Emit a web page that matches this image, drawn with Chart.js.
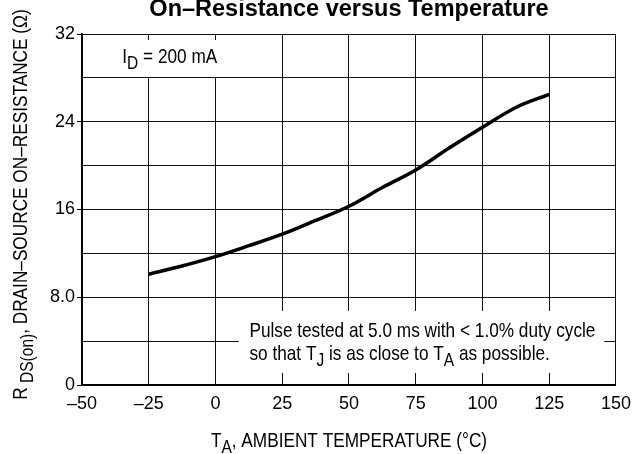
<!DOCTYPE html>
<html lang="en">
<head>
<meta charset="UTF-8" />
<title>On-Resistance versus Temperature</title>
<script src="https://cdn.jsdelivr.net/npm/chart.js"></script>
<style>
  html, body { margin: 0; padding: 0; background: #fff; }
  #wrap { width: 639px; height: 454px; }
</style>
</head>
<body>
<div id="wrap"><canvas id="chart" width="639" height="454"></canvas></div>
<script>
const temps = [-25, -12.5, 0, 12.5, 25, 37.5, 50, 62.5, 75, 87.5, 100, 112.5, 125];
const rdson = [10.1, 10.85, 11.7, 12.7, 13.75, 15.0, 16.3, 18.0, 19.6, 21.6, 23.5, 25.3, 26.5];
const xTicks = [-50, -25, 0, 25, 50, 75, 100, 125, 150];
const yTickLabels = { 0: '0', 8: '8.0', 16: '16', 24: '24', 32: '32' };

function hasFont(name) {
  const c = document.createElement('canvas').getContext('2d');
  const s = 'abcdefghijklmnopqrstuvwxyz0123456789';
  c.font = '40px monospace';
  const a = c.measureText(s).width;
  c.font = '40px "' + name + '", monospace';
  return c.measureText(s).width !== a;
}
// the original uses a narrow Helvetica; fake it by squeezing if no narrow face
const narrow = hasFont('Liberation Sans Narrow');
const FAMILY = narrow ? '"Liberation Sans Narrow", "Liberation Sans", sans-serif' : '"Liberation Sans", sans-serif';
const SIZE = 21;
const SQUEEZE = narrow ? 1 : 0.82;

// text with subscript parts: [[text, isSub], ...]
function runsWidth(ctx, runs) {
  let w = 0;
  runs.forEach(([t, sub]) => {
    ctx.font = (sub ? SIZE * 0.9 : SIZE) + 'px ' + FAMILY;
    w += ctx.measureText(t).width * SQUEEZE;
  });
  return w;
}
function drawRuns(ctx, runs, x, y) {
  let cx = x;
  runs.forEach(([t, sub]) => {
    ctx.font = (sub ? SIZE * 0.9 : SIZE) + 'px ' + FAMILY;
    ctx.save();
    ctx.translate(cx, y + (sub ? SIZE * 0.28 : 0));
    ctx.scale(SQUEEZE, 1);
    ctx.fillText(t, 0, 0);
    ctx.restore();
    cx += ctx.measureText(t).width * SQUEEZE;
  });
}

const notesPlugin = {
  id: 'notes',
  beforeDatasetsDraw(chart) {
    const { ctx, scales: { x, y } } = chart;
    ctx.save();
    ctx.fillStyle = '#fff';
    // white patches behind the two notes
    let l = x.getPixelForValue(-50) + 1, r = x.getPixelForValue(3);
    let t = y.getPixelForValue(31.45), b = y.getPixelForValue(28) - 1;
    ctx.fillRect(l, t, r - l, b - t);
    l = x.getPixelForValue(8.7); r = x.getPixelForValue(145.6);
    t = y.getPixelForValue(6.75); b = y.getPixelForValue(1.1);
    ctx.fillRect(l, t, r - l, b - t);
    ctx.restore();
  },
  afterDraw(chart) {
    const { ctx, chartArea: area, scales: { x, y } } = chart;
    ctx.save();
    ctx.fillStyle = '#000';
    ctx.textBaseline = 'alphabetic';
    ctx.textAlign = 'left';

    // title, bold, partly cut at the top
    ctx.font = 'bold 23.5px "Liberation Sans", sans-serif';
    ctx.textAlign = 'center';
    ctx.fillText('On–Resistance versus Temperature', (area.left + area.right) / 2, 16);
    ctx.textAlign = 'left';

    drawRuns(ctx, [['I', false], ['D', true], [' = 200 mA', false]],
      x.getPixelForValue(-34.9), y.getPixelForValue(29.35));

    drawRuns(ctx, [['Pulse tested at 5.0 ms with < 1.0% duty cycle', false]],
      x.getPixelForValue(12.7), y.getPixelForValue(4.38));
    drawRuns(ctx, [['so that T', false], ['J', true], [' is as close to T', false], ['A', true], [' as possible.', false]],
      x.getPixelForValue(12.7), y.getPixelForValue(2.28));

    // x axis title
    const xt = [['T', false], ['A', true], [', AMBIENT TEMPERATURE (°C)', false]];
    drawRuns(ctx, xt, (area.left + area.right) / 2 - runsWidth(ctx, xt) / 2, area.bottom + 62);

    // y axis title, rotated
    const yt = [['R', false], [' DS(on)', true], [', DRAIN–SOURCE ON–RESISTANCE (Ω)', false]];
    ctx.translate(27, (area.top + area.bottom) / 2 - 5);
    ctx.rotate(-Math.PI / 2);
    drawRuns(ctx, yt, -runsWidth(ctx, yt) / 2, 0);
    ctx.restore();
  }
};

const tickFont = { family: FAMILY, size: narrow ? 21 : 18 };

new Chart(document.getElementById('chart'), {
  type: 'line',
  data: {
    datasets: [{
      data: temps.map((t, i) => ({ x: t, y: rdson[i] })),
      borderColor: '#000',
      borderWidth: 3.5,
      pointRadius: 0,
      fill: false,
      cubicInterpolationMode: 'monotone'
    }]
  },
  options: {
    responsive: false,
    animation: false,
    layout: { padding: { left: 0, top: 34, right: 15, bottom: 0 } },
    plugins: { legend: { display: false }, tooltip: { enabled: false }, title: { display: false } },
    scales: {
      x: {
        type: 'linear',
        min: -50,
        max: 150,
        afterBuildTicks: s => { s.ticks = xTicks.map(v => ({ value: v })); },
        afterFit: s => { s.height = 69; },
        ticks: {
          font: tickFont,
          color: '#000',
          padding: 8,
          maxRotation: 0,
          autoSkip: false,
          callback: v => String(v).replace('-', '–')
        },
        grid: { color: '#111', lineWidth: 1, drawTicks: false },
        border: { color: '#000', width: 1.5 }
      },
      y: {
        min: 0,
        max: 32,
        afterFit: s => { s.width = 82; },
        ticks: {
          stepSize: 4,
          font: tickFont,
          color: '#000',
          padding: 2,
          autoSkip: false,
          callback: v => yTickLabels[v] ?? ''
        },
        grid: {
          color: '#111',
          lineWidth: 1,
          tickLength: 5,
          tickColor: c => (c.tick && c.tick.value % 8 === 0) ? '#000' : 'rgba(0,0,0,0)'
        },
        border: { color: '#000', width: 1.5 }
      }
    }
  },
  plugins: [notesPlugin]
});
</script>
</body>
</html>
